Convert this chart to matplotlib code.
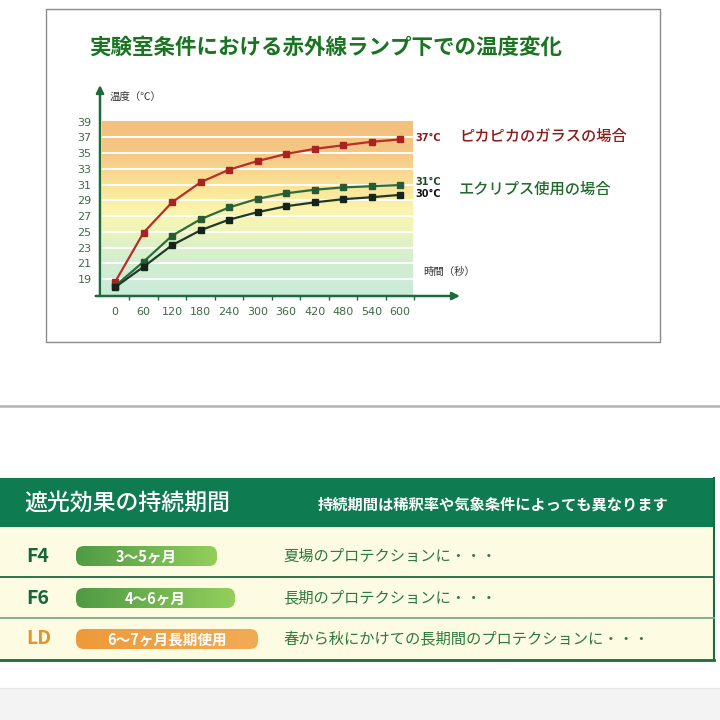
import numpy as np
import matplotlib.pyplot as plt
from matplotlib.patches import Rectangle, FancyBboxPatch
from matplotlib.colors import LinearSegmentedColormap

plt.rcParams['font.family'] = ['Noto Sans CJK JP', 'DejaVu Sans']

# chart data (seconds / deg C)
times = [0, 60, 120, 180, 240, 300, 360, 420, 480, 540, 600]
glass_temp = [18.6, 24.9, 28.75, 31.3, 32.9, 34.0, 34.9, 35.55, 36.0, 36.45, 36.75]
eclipse_hi = [18.1, 21.2, 24.5, 26.6, 28.1, 29.2, 29.9, 30.35, 30.65, 30.8, 30.95]
eclipse_lo = [17.95, 20.55, 23.3, 25.2, 26.55, 27.5, 28.25, 28.75, 29.15, 29.4, 29.7]
y_ticks = [19, 21, 23, 25, 27, 29, 31, 33, 35, 37, 39]
minor_x = [30, 90, 150, 210, 270, 330, 390, 450, 510, 570, 630]

# table data
products = ['F4', 'F6', 'LD']
durations = ['3〜5ヶ月', '4〜6ヶ月', '6〜7ヶ月長期使用']
uses = ['夏場のプロテクションに・・・',
        '長期のプロテクションに・・・',
        '春から秋にかけての長期間のプロテクションに・・・']

fig = plt.figure(figsize=(7.2, 7.2), dpi=100)

# full-figure axes in pixel coords for the layout pieces
bg = fig.add_axes([0, 0, 1, 1])
bg.axis('off')

# chart frame
bg.add_patch(Rectangle((46, 9), 614, 333, fill=False, ec='#8a8a8a', lw=1))
bg.text(89, 47, '実験室条件における赤外線ランプ下での温度変化', fontsize=15.5,
        fontweight='bold', color='#1a7422', va='center', ha='left')
bg.text(110, 97, '温度（℃）', fontsize=7.5, color='#333333', va='center')
bg.text(423, 272, '時間（秒）', fontsize=7.5, color='#333333', va='center')

bg.text(415, 138, '37°C', fontsize=7, fontweight='bold', color='#8b1a1a',
        va='center', family='DejaVu Sans')
bg.text(415, 182, '31°C', fontsize=7, fontweight='bold', color='#1f4a2a',
        va='center', family='DejaVu Sans')
bg.text(415, 194, '30°C', fontsize=7, fontweight='bold', color='#111111',
        va='center', family='DejaVu Sans')
bg.text(459, 136, 'ピカピカのガラスの場合', fontsize=11, fontweight='medium',
        color='#8b1c1c', va='center')
bg.text(459, 189, 'エクリプス使用の場合', fontsize=11, fontweight='medium',
        color='#1e6b2a', va='center')

# separator
bg.plot([0, 720], [406, 406], color='#b4b4b4', lw=1.8)

# table block
bg.add_patch(Rectangle((0, 527), 714, 133, fc='#fdfbe2', ec='none'))
bg.add_patch(Rectangle((0, 478), 714, 49, fc='#0e7b50', ec='none'))
bg.plot([714, 714], [478, 660], color='#1b6b40', lw=1.5)
bg.plot([0, 714], [660, 660], color='#1b6b40', lw=2)
bg.plot([0, 714], [577, 577], color='#1d6b45', lw=1.3)
bg.plot([0, 714], [618, 618], color='#7ea88c', lw=1.3)
bg.text(24, 503, '遮光効果の持続期間', fontsize=16.5, fontweight='medium',
        color='white', va='center')
bg.text(318, 505, '持続期間は稀釈率や気象条件によっても異なります', fontsize=11,
        fontweight='bold', color='white', va='center')

row_y = [556, 598, 639]
pill_right = [217, 235, 258]
name_colors = ['#17663a', '#17663a', '#e8922a']
pill_maps = [['#4f9a45', '#92cf5c'], ['#4f9a45', '#92cf5c'], ['#ee9a3a', '#f2ab55']]
grad = np.linspace(0, 1, 256).reshape(1, -1)
for i in range(len(products)):
    y = row_y[i]
    bg.text(26, y, products[i], fontsize=14, fontweight='bold', color=name_colors[i],
            va='center', ha='left')
    pill = FancyBboxPatch((80, y - 6), pill_right[i] - 84, 12,
                          boxstyle='round,pad=4,rounding_size=8',
                          fc='none', ec='none')
    bg.add_patch(pill)
    cmap = LinearSegmentedColormap.from_list('p%d' % i, pill_maps[i])
    im = bg.imshow(grad, cmap=cmap, extent=[76, pill_right[i], y + 10, y - 10],
                   aspect='auto', zorder=2)
    im.set_clip_path(pill)
    bg.text((76 + pill_right[i]) / 2, y, durations[i], fontsize=10.5, fontweight='bold',
            color='white', va='center', ha='center', zorder=3)
    bg.text(283, y, uses[i], fontsize=11, color='#2a7a3e', va='center', ha='left')

# bottom grey strip
bg.add_patch(Rectangle((0, 688), 720, 32, fc='#f3f3f3', ec='none'))
bg.plot([0, 720], [688, 688], color='#e6e6e6', lw=1)

bg.set_xlim(0, 720)
bg.set_ylim(720, 0)

# the temperature chart itself
ax = fig.add_axes([100 / 720, (720 - 296) / 720, 360 / 720, 211 / 720])
ax.patch.set_alpha(0)
ax.set_xlim(-31.6, 726)
ax.set_ylim(16.84, 43.67)
for s in ax.spines.values():
    s.set_visible(False)

band_cmap = LinearSegmentedColormap.from_list('band', [
    (0.0, '#c9ebda'), (0.18, '#d2eed0'), (0.3, '#dff1c6'), (0.4, '#f2f6b8'),
    (0.5, '#fbf3ad'), (0.6, '#fbe79a'), (0.7, '#f8d990'), (0.82, '#f5c784'),
    (1.0, '#f3c07e')])
band = np.linspace(0, 1, 256).reshape(-1, 1)
ax.imshow(band, cmap=band_cmap, origin='lower', aspect='auto',
          extent=[-27.4, 627, 16.84, 39], zorder=0)
ax.hlines(y_ticks[:-1], -27.4, 627, colors='white', lw=1.4, zorder=1)

ax.plot(times, glass_temp, color='#bb2e28', lw=1.6, marker='s', ms=4.2,
        mfc='#a82422', mec='#a82422', zorder=4)
ax.plot(times, eclipse_hi, color='#2e6b3a', lw=1.6, marker='s', ms=4.2,
        mfc='#285a33', mec='#285a33', zorder=4)
ax.plot(times, eclipse_lo, color='#1f3a2c', lw=1.6, marker='s', ms=4.2,
        mfc='#15241b', mec='#15241b', zorder=4)

ax.set_yticks(y_ticks)
ax.set_yticklabels([str(v) for v in y_ticks], fontsize=8, color='#3d6b45',
                   family='DejaVu Sans')
ax.set_xticks(times)
ax.set_xticklabels([str(v) for v in times], fontsize=8, color='#3d6b45',
                   family='DejaVu Sans')
ax.tick_params(axis='y', length=0, pad=6)
ax.tick_params(axis='x', which='major', length=0, pad=8)
ax.set_xticks(minor_x, minor=True)
ax.tick_params(axis='x', which='minor', length=3, width=1, color='#1e6b3a',
               direction='out')

ax.annotate('', xy=(1, 0), xytext=(-0.012, 0), xycoords='axes fraction',
            arrowprops=dict(arrowstyle='-|>', color='#1e6b3a', lw=1.8,
                            mutation_scale=11, shrinkA=0, shrinkB=0))
ax.annotate('', xy=(0, 1), xytext=(0, 0), xycoords='axes fraction',
            arrowprops=dict(arrowstyle='-|>', color='#1e6b3a', lw=1.8,
                            mutation_scale=11, shrinkA=0, shrinkB=0))

fig.savefig('out.png', dpi=100)
